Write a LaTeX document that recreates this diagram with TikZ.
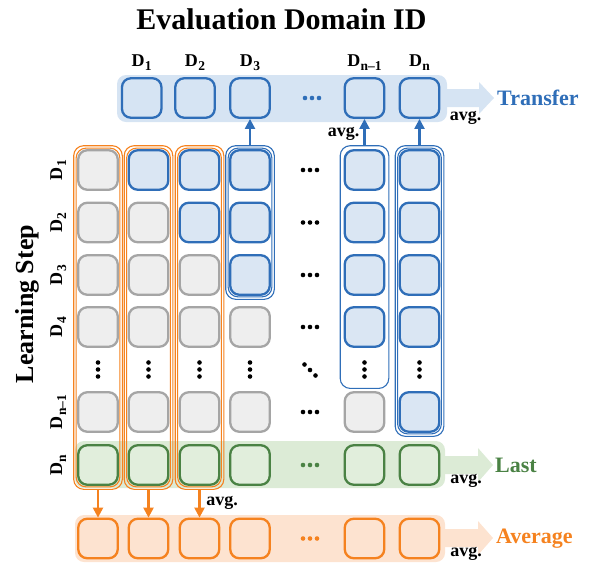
\documentclass[tikz,border=0pt]{standalone}
\usepackage{fontspec}
\setmainfont{Liberation Serif}
\usetikzlibrary{arrows.meta,fit}
\definecolor{bstroke}{HTML}{2F6EB8}
\definecolor{bfill}{HTML}{DAE6F3}
\definecolor{bband}{HTML}{D6E4F3}
\definecolor{gstroke}{HTML}{4A8244}
\definecolor{gfill}{HTML}{E1EEDC}
\definecolor{gband}{HTML}{DCEBD6}
\definecolor{ostroke}{HTML}{F5821F}
\definecolor{oband}{HTML}{FDE3D0}
\definecolor{grstroke}{HTML}{A5A5A5}
\definecolor{grfill}{HTML}{EEEEEE}
\newcommand\myfs[1]{\fontsize{#1}{#1}\selectfont}
\newcommand\Dsub[1]{D\kern0.3pt\raisebox{-4pt}{\myfs{13.5}#1}}
\begin{document}
\begin{tikzpicture}[x=1pt,y=-1pt,
  cell/.style={minimum width=39.5pt,minimum height=39.5pt,rounded corners=9pt,line width=2.3pt,inner sep=0pt},
  bluecell/.style={cell,draw=bstroke,fill=bfill},
  topcell/.style={cell,draw=bstroke,fill=bband},
  graycell/.style={cell,draw=grstroke,fill=grfill},
  greencell/.style={cell,draw=gstroke,fill=gfill},
  orangecell/.style={cell,draw=ostroke},
  band/.style={rounded corners=9pt,inner sep=0pt},
  obox/.style={draw=ostroke,line width=1.1pt,rounded corners=10pt,fill=none},
  bbox/.style={draw=bstroke,line width=1.1pt,rounded corners=10pt,fill=none},
  barr/.style={draw=bstroke,line width=2.2pt,-{Triangle[length=10pt,width=10pt]}},
  oarr/.style={draw=ostroke,line width=2.2pt,-{Triangle[length=10pt,width=10pt]}},
  lab/.style={font=\bfseries\myfs{18},inner sep=0pt},
  big/.style={font=\bfseries\myfs{22},inner sep=0pt},
]
\useasboundingbox (0,0) rectangle (589,566);

% bands
\node[band,fill=bband,minimum width=330pt,minimum height=47pt] (tband) at (282,98.5) {};
\fill[bband] (445,89) -- (479,89) -- (479,82) -- (494,98) -- (479,114) -- (479,107) -- (445,107) -- cycle;
\node[band,fill=gband,minimum width=370pt,minimum height=47pt] (gbandn) at (260,464.5) {};
\fill[gband] (443,456) -- (478,456) -- (478,448) -- (493,465) -- (478,482) -- (478,474) -- (443,474) -- cycle;
\node[band,fill=oband,minimum width=370pt,minimum height=47pt] (obandn) at (260,538.5) {};
\fill[oband] (443,529) -- (478,529) -- (478,521) -- (493,538) -- (478,555) -- (478,547) -- (443,547) -- cycle;

% title
\node[font=\bfseries\myfs{30},inner sep=0pt,anchor=base] (title) at (281.5,29) {Evaluation Domain ID};
\node[font=\bfseries\myfs{26},inner sep=0pt,anchor=base,rotate=90] (lstep) at (34,304) {Learning Step};

% top row
\foreach \c/\x/\t in {1/141.7/1,2/195/2,3/250/3,6/364.5/{n--1},7/419.5/n}{
  \node[topcell] (t-\c) at (\x,98) {};
  \node[lab,anchor=base] (tl-\c) at (\x,66.5) {\Dsub{\t}};
}

% matrix
\foreach \c/\x in {1/98,2/148.5,3/199.5,4/250,6/364.5,7/419.5}{
  \foreach \r/\y in {1/170,2/222.5,3/275,4/327,6/412}{
    \ifnum\r<\c
      \node[bluecell] (m-\r-\c) at (\x,\y) {};
    \else
      \node[graycell] (m-\r-\c) at (\x,\y) {};
    \fi
  }
  \node[greencell] (m-7-\c) at (\x,465) {};
  \node[orangecell] (b-\c) at (\x,538.5) {};
  \coordinate (vd-\c) at (\x,385);
  \foreach \d in {362.5,369.5,376.5} \fill (\x,\d) circle (2.3pt);
}

% row labels
\foreach \r/\y/\t in {1/170/1,2/222.5/2,3/275/3,4/327/4,6/412/{n--1},7/465/n}{
  \node[lab,anchor=base,rotate=90] (rl-\r) at (62,\y) {\Dsub{\t}};
}

% horizontal dots
\foreach \y in {170,222.5,275,327,412}{
  \foreach \d in {303,310,317} \fill (\d,\y) circle (2.3pt);
}
\foreach \d/\e in {304.5/364.5,310/370,315.5/375.5} \fill (\d,\e) circle (2.3pt);
\foreach \d in {305,312,319} \fill[bstroke] (\d,98) circle (2.3pt);
\foreach \d in {303,310,317} \fill[gstroke] (\d,465) circle (2.3pt);
\foreach \d in {303,310,317} \fill[ostroke] (\d,538.5) circle (2.3pt);

% column boxes
\foreach \c in {1,2,3}{
  \node[obox,fit=(m-1-\c)(m-7-\c),inner sep=3.4pt] (ob-\c) {};
  \node[obox,fit=(m-1-\c)(m-7-\c),inner sep=1.0pt] (obi-\c) {};
}
\node[bbox,fit=(m-1-4)(m-3-4),inner sep=3.4pt] (bb-4) {};
\node[bbox,fit=(m-1-4)(m-3-4),inner sep=1.0pt] (bbi-4) {};
\node[bbox,fit=(m-1-6)(vd-6),inner sep=3.4pt] (bb-6) {};
\node[bbox,fit=(m-1-7)(m-6-7),inner sep=3.4pt] (bb-7) {};
\node[bbox,fit=(m-1-7)(m-6-7),inner sep=1.0pt] (bbi-7) {};

% arrows
\draw[barr] (bb-4.north) -- (t-3.south);
\draw[barr] (bb-6.north) -- (t-6.south);
\draw[barr] (bb-7.north) -- (t-7.south);
\foreach \c in {1,2,3} \draw[oarr] (ob-\c.south) -- (b-\c.north);

% right labels
\node[big,text=bstroke,anchor=base west] (transfer) at (497,105) {Transfer};
\node[big,text=gstroke,anchor=base west] (last) at (495,472) {Last};
\node[big,text=ostroke,anchor=base west] (average) at (496,543) {Average};

% avg labels
\node[lab,anchor=base] (avg1) at (465.5,120) {avg.};
\node[lab,anchor=base] (avg2) at (343.5,136.5) {avg.};
\node[lab,anchor=base] (avg3) at (466,483) {avg.};
\node[lab,anchor=base] (avg4) at (222,505) {avg.};
\node[lab,anchor=base] (avg5) at (466,556.5) {avg.};
\end{tikzpicture}
\end{document}
